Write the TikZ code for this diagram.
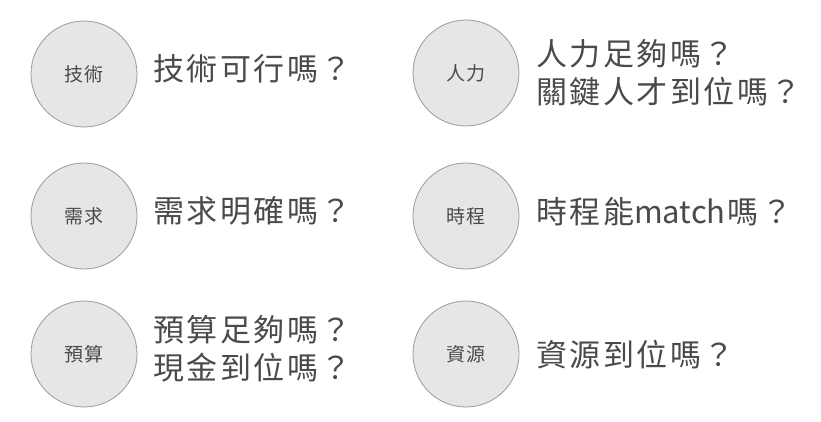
\documentclass[tikz,border=0pt]{standalone}
\usepackage{fontspec}
\setmainfont{Noto Sans CJK TC}
\newfontfamily\qfont{Noto Sans CJK TC}[LetterSpace=8]
\newfontfamily\mfont{Noto Sans CJK TC}
\definecolor{circfill}{HTML}{E6E6E6}
\definecolor{circline}{HTML}{9A9A9A}
\definecolor{txt}{HTML}{4A4A4A}
\begin{document}
\begin{tikzpicture}[x=1pt,y=1pt,
  topic/.style={circle,draw=circline,fill=circfill,line width=0.8pt,minimum size=106pt,inner sep=0pt,
    font=\qfont\fontsize{19}{22}\selectfont,text=txt},
  question/.style={anchor=west,inner sep=0pt,align=left,text=txt,
    font=\qfont\fontsize{31}{38}\selectfont}]
\useasboundingbox (0,0) rectangle (821,422);
% left column
\node[topic] (c1) at (84,348) {技術};
\node[topic] (c2) at (84,206) {需求};
\node[topic] (c3) at (84,68) {預算};
\node[question] (q1) at (153,353) {技術可行嗎？};
\node[question] (q2) at (153,211) {需求明確嗎？};
\node[question] (q3) at (153,73) {預算足夠嗎？\\現金到位嗎？};
% right column
\node[topic] (c4) at (466,349) {人力};
\node[topic] (c5) at (466,206) {時程};
\node[topic] (c6) at (466,68) {資源};
\node[question] (q4) at (536,349) {人力足夠嗎？\\關鍵人才到位嗎？};
\node[question] (q5) at (536,210) {時程能{\mfont match\kern2pt}嗎？};
\node[question] (q6) at (536,67) {資源到位嗎？};
\end{tikzpicture}
\end{document}
